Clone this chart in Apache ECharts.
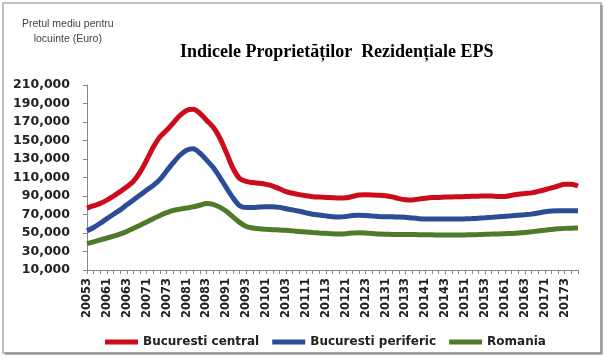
<!DOCTYPE html>
<html>
<head>
<meta charset="utf-8">
<script src="https://cdn.jsdelivr.net/npm/echarts@6/dist/echarts.min.js"></script>
<style>html,body{margin:0;padding:0;background:#fff}#c{width:605px;height:360px}</style>
</head>
<body>
<div id="c"></div>
<script>
var tickLabels = ['20053','20061','20063','20071','20073','20081','20083','20091','20093','20101','20103','20111','20113','20121','20123','20131','20133','20141','20143','20151','20153','20161','20163','20171','20173'];
var seriesNames = ['Bucuresti central','Bucuresti periferic','Romania'];
var central = [77000,79500,82000,85500,90000,94700,100000,106000,115800,128900,143000,154100,161000,168900,177000,182500,183700,179500,172000,164500,153000,137000,120000,109000,105700,104500,103700,102600,100800,97800,94800,93000,91500,90300,89300,88800,88500,88200,87800,88000,89500,91000,91300,91200,90900,90300,89000,87200,86000,85800,86700,87600,88300,88500,88800,89000,89200,89400,89600,89800,90000,89900,89500,89500,90800,92000,92700,93400,95000,96800,98700,100800,102600,102700,100800];
var periferic = [52500,56000,60500,65500,70300,75000,80500,85700,91000,96500,101500,108000,117000,126000,134000,139500,141000,136500,129000,121000,110500,99000,88000,79500,77500,77600,78000,78300,78400,77700,76300,75000,73500,71800,70300,69400,68500,67600,67200,67800,68800,69100,68800,68300,67900,67600,67500,67300,67000,66200,65500,65100,65100,65100,65100,65100,65100,65300,65600,66000,66400,66900,67500,68200,68700,69300,69800,70400,71600,72900,73900,74100,74000,74000,74100];
var romania = [38500,40500,42500,44500,46500,49000,51700,55100,58500,62000,65500,69000,72000,74500,75800,77000,78200,80000,81800,81000,78000,73500,67500,61500,57000,55500,54500,54000,53600,53300,52900,52300,51700,51100,50500,50000,49600,49200,49000,49300,49900,50300,50000,49400,48800,48600,48500,48400,48400,48300,48200,48100,48000,47900,47800,47800,47800,47900,48100,48300,48600,48800,49000,49200,49500,49900,50500,51300,52200,53000,53800,54500,55000,55200,55400];
var colors = ['#cc0c1c','#2a4d95','#4f7a2a'];

var categories = [];
for (var i = 0; i < central.length; i++) {
  categories.push(i % 3 === 0 && tickLabels[i / 3] ? tickLabels[i / 3] : '');
}
var chart = echarts.init(document.getElementById('c'));
var lab = {fontFamily: 'DejaVu Sans', fontWeight: 'bold', color: '#222'};
function mk(name, data, color) {
  return {name: name, type: 'line', data: data, smooth: 0.3, showSymbol: false,
    lineStyle: {width: 5, color: color}, itemStyle: {color: color}};
}
chart.setOption({
  animation: false,
  title: {text: 'Indicele Proprietăților  Rezidențiale EPS', left: 175, top: 38,
    textStyle: {fontFamily: 'Liberation Serif', fontWeight: 'bold', fontSize: 18, color: '#000'}},
  grid: {left: 87, right: 27, top: 85, bottom: 90},
  legend: {left: 100, top: 331, itemWidth: 33, itemHeight: 5, itemGap: 13, icon: 'rect',
    data: seriesNames,
    textStyle: {fontFamily: 'DejaVu Sans', fontWeight: 'bold', fontSize: 12, color: '#222'}},
  xAxis: {type: 'category', boundaryGap: false, data: categories,
    axisLine: {lineStyle: {color: '#888'}},
    axisTick: {interval: 0, length: 4, lineStyle: {color: '#888'}},
    axisLabel: Object.assign({interval: 0, rotate: 90, fontSize: 11.5, margin: 8}, lab)},
  yAxis: {type: 'value', min: 10000, max: 210000, interval: 20000,
    axisLine: {show: true, lineStyle: {color: '#888'}},
    axisTick: {show: true, length: 4, lineStyle: {color: '#888'}},
    splitLine: {show: false},
    axisLabel: Object.assign({fontSize: 12.5, margin: 17,
      formatter: function (v) { return v.toLocaleString('en-US'); }}, lab)},
  graphic: [
    {type: 'rect', shape: {x: 3, y: 3, width: 598, height: 350}, silent: true,
      style: {fill: 'none', stroke: '#aaa', lineWidth: 1.5}},
    {type: 'line', shape: {x1: 601.5, y1: 5, x2: 601.5, y2: 354}, silent: true,
      style: {stroke: '#999', lineWidth: 2.5}},
    {type: 'line', shape: {x1: 5, y1: 353.5, x2: 602, y2: 353.5}, silent: true,
      style: {stroke: '#999', lineWidth: 2.5}},
    {type: 'text', left: 22, top: 17, silent: true,
      style: {text: 'Pretul mediu pentru\nlocuinte (Euro)', textAlign: 'center', x: 0,
        font: '10.5px "Liberation Sans"', fill: '#444', lineHeight: 15, align: 'center'}}
  ],
  series: [mk(seriesNames[0], central, colors[0]), mk(seriesNames[1], periferic, colors[1]), mk(seriesNames[2], romania, colors[2])]
});
</script>
</body>
</html>
